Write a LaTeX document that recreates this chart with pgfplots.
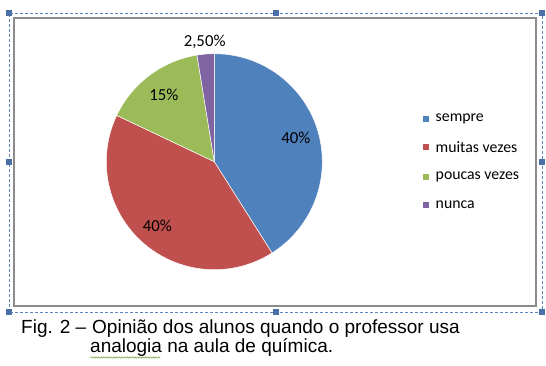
\documentclass[border=0pt]{standalone}
\usepackage{pgfplots}
\pgfplotsset{compat=1.18}
\usepackage{fontspec}
\setmainfont{Carlito}
\newfontfamily\arialfont{Liberation Sans}
\usetikzlibrary{decorations.pathmorphing}
\definecolor{cA}{HTML}{4F81BD}
\definecolor{cB}{HTML}{C0504D}
\definecolor{cC}{HTML}{9BBB59}
\definecolor{cD}{HTML}{8064A2}
\definecolor{dashblue}{HTML}{5A85BF}
\definecolor{handle}{HTML}{4A70A8}
\definecolor{framegray}{HTML}{8C8C8C}
\definecolor{wavy}{HTML}{7FA84A}
\begin{document}
\begin{tikzpicture}
\path[use as bounding box] (0,0) rectangle (546bp,366bp);
\begin{axis}[scale only axis, width=546bp, height=366bp,
  xmin=0, xmax=546, ymin=0, ymax=366, axis lines=none, clip=false,
  anchor=south west, at={(0,0)}]
\pgfplotsextra{
  % frames
  \draw[framegray, line width=1.5bp] (axis cs:14,60) rectangle (axis cs:536,348);
  \draw[dashblue, line width=0.8bp, dash pattern=on 3bp off 2bp] (axis cs:9,54) rectangle (axis cs:542,353);
  \foreach \hx/\hy in {9/353, 275.5/353, 542/353, 9/203.5, 542/203.5, 9/54, 275.5/54, 542/54}{
    \fill[handle] (axis cs:\hx,\hy) ++(-3bp,-3bp) rectangle ++(6bp,6bp);
  }
  % pie: value / colour / label / label radius
  \foreach \v/\c/\t/\r [remember=\e as \s (initially 90)] in
     {40/cA/{40\%}/85, 40/cB/{40\%}/86, 15/cC/{15\%}/84, 2.5/cD/{2,50\%}/120}{
    \pgfmathsetmacro{\e}{\s-\v*360/97.5}
    \pgfmathsetmacro{\m}{(\s+\e)/2}
    \fill[\c, draw=white, line width=0.5bp] (axis cs:214.3,204.3) -- ++(\s:108bp)
       arc[start angle=\s, end angle=\e, radius=108bp] -- cycle;
    \path (axis cs:214.3,204.3) ++(\m:\r bp) node[font=\fontsize{16.8bp}{19bp}\selectfont, text=black, inner sep=0pt] {\t};
  }
  % legend
  \foreach \c/\t/\y in {cA/sempre/247, cB/muitas vezes/219, cC/poucas vezes/189, cD/nunca/161}{
    \fill[\c] (axis cs:423,\y) ++(0,-3bp) rectangle ++(6bp,6bp);
    \node[anchor=west, inner sep=0pt, font=\fontsize{15.8bp}{18bp}\selectfont] at (axis cs:435.5,\y) {\t};
  }
  % caption
  \node[anchor=base west, inner sep=0pt, font=\arialfont\fontsize{19bp}{21bp}\selectfont] at (axis cs:21,32) {Fig. 2 –};
  \node[anchor=base west, inner sep=0pt, font=\arialfont\fontsize{19bp}{21bp}\selectfont] at (axis cs:92,32) {Opinião dos alunos quando o professor usa};
  \node[anchor=base west, inner sep=0pt, font=\arialfont\fontsize{19bp}{21bp}\selectfont] at (axis cs:90,14) {analogia na aula de química.};
  \draw[wavy, line width=0.6bp, decorate, decoration={snake, amplitude=0.7bp, segment length=2.6bp}] (axis cs:90,8.5) -- (axis cs:160,8.5);
}
\end{axis}
\end{tikzpicture}
\end{document}
